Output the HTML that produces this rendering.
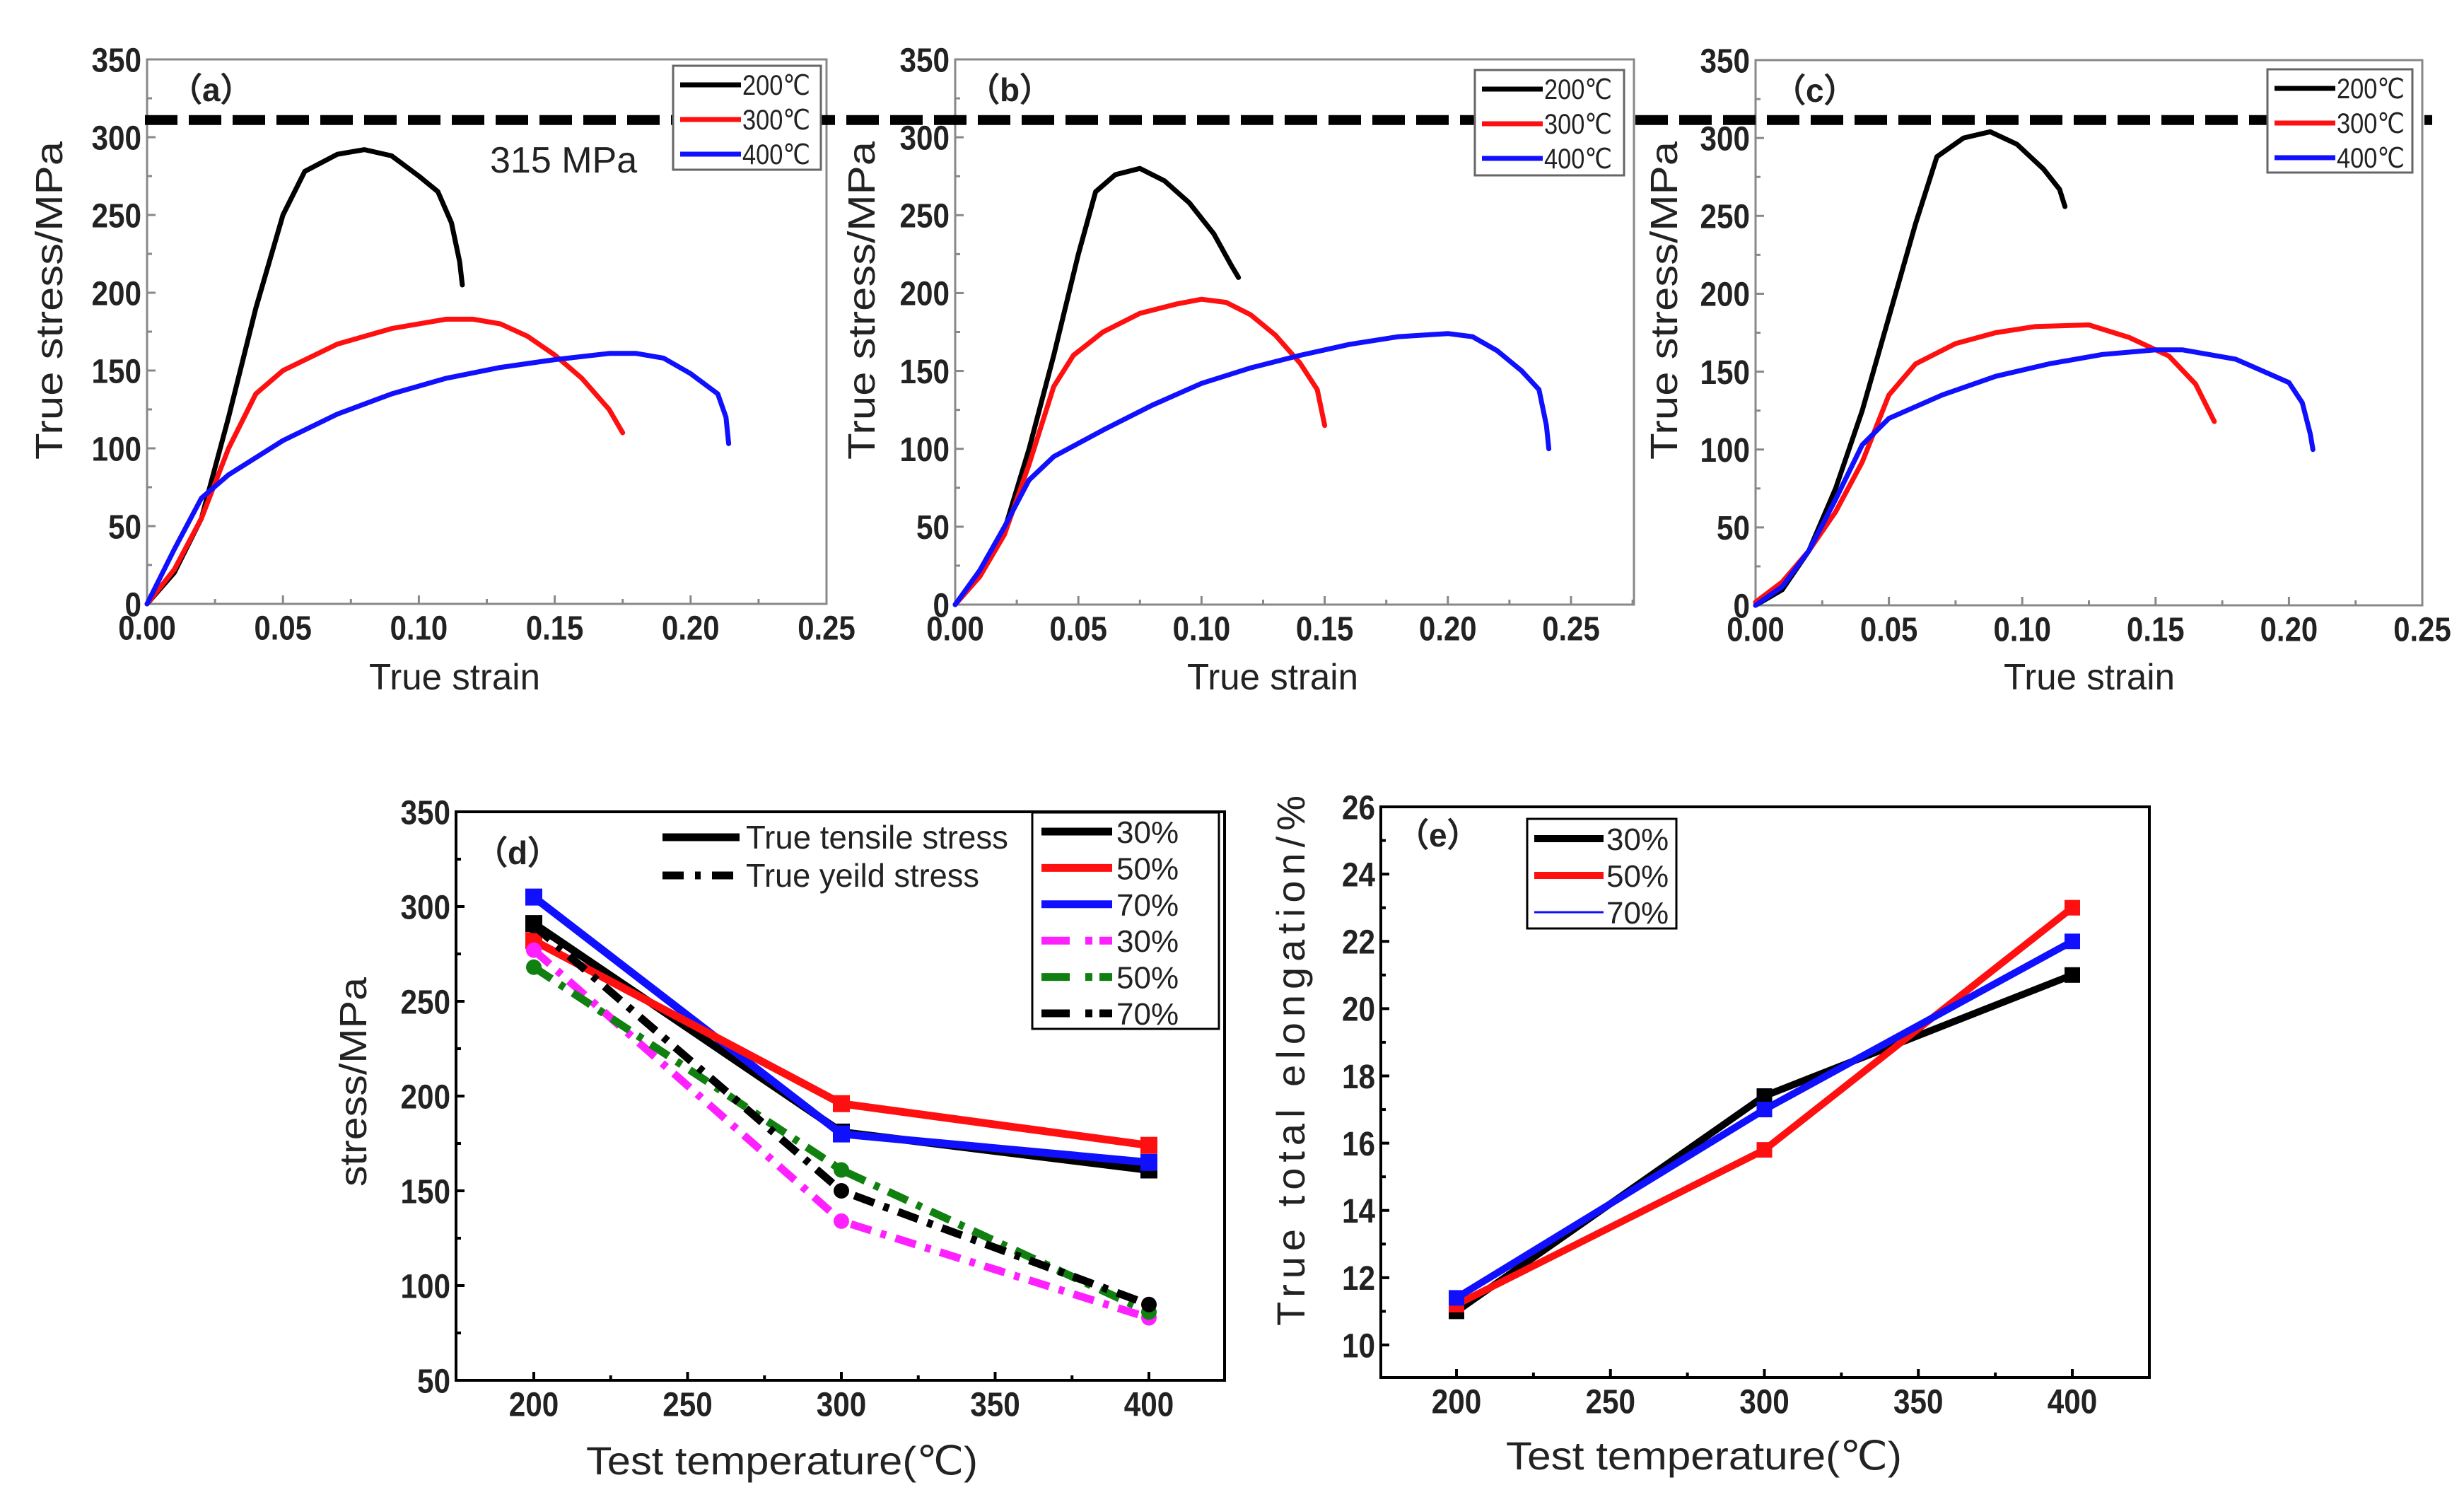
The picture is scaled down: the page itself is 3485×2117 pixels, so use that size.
<!DOCTYPE html>
<html><head><meta charset="utf-8">
<style>
html,body{margin:0;padding:0;background:#fff;overflow:hidden;}
svg{display:block;}
text{font-family:"Liberation Sans",sans-serif;}
</style></head>
<body>
<svg id="fig" width="3485" height="2117" viewBox="0 0 3485 2117" xmlns="http://www.w3.org/2000/svg"></svg>
<script>
// ---- data: panels a-c (true strain, true stress) ----
const strainA200=[0,0.01,0.02,0.03,0.04,0.05,0.058,0.07,0.08,0.09,0.1,0.107,0.112,0.115,0.116];
const stressA200=[0,20,55,120,190,250,278,289,292,288,275,265,245,220,205];
const strainA300=[0,0.01,0.02,0.03,0.04,0.05,0.07,0.09,0.11,0.12,0.13,0.14,0.15,0.16,0.17,0.175];
const stressA300=[0,22,55,100,135,150,167,177,183,183,180,172,160,145,125,110];
const strainA400=[0,0.01,0.02,0.03,0.05,0.07,0.09,0.11,0.13,0.15,0.17,0.18,0.19,0.2,0.21,0.213,0.214];
const stressA400=[0,35,68,83,105,122,135,145,152,157,161,161,158,148,135,120,103];
const strainB200=[0,0.01,0.02,0.03,0.04,0.05,0.057,0.065,0.075,0.085,0.095,0.105,0.112,0.115];
const stressB200=[0,20,48,100,160,225,265,276,280,272,258,238,218,210];
const strainB300=[0,0.01,0.02,0.03,0.04,0.048,0.06,0.075,0.09,0.1,0.11,0.12,0.13,0.14,0.147,0.15];
const stressB300=[0,18,45,90,140,160,175,187,193,196,194,186,173,155,138,115];
const strainB400=[0,0.01,0.02,0.03,0.04,0.06,0.08,0.1,0.12,0.14,0.16,0.18,0.2,0.21,0.22,0.23,0.237,0.24,0.241];
const stressB400=[0,22,50,80,95,112,128,142,152,160,167,172,174,172,163,150,138,115,100];
const strainC200=[0,0.01,0.02,0.03,0.04,0.05,0.06,0.068,0.078,0.088,0.098,0.108,0.114,0.116];
const stressC200=[0,10,35,75,125,185,245,288,300,304,296,280,267,256];
const strainC300=[0,0.01,0.02,0.03,0.04,0.05,0.06,0.075,0.09,0.105,0.125,0.14,0.155,0.165,0.172];
const stressC300=[2,15,35,60,92,135,155,168,175,179,180,172,160,142,118];
const strainC400=[0,0.01,0.02,0.03,0.04,0.05,0.07,0.09,0.11,0.13,0.15,0.16,0.18,0.2,0.205,0.208,0.209];
const stressC400=[0,12,35,68,103,120,135,147,155,161,164,164,158,143,130,110,100];
const strainTicks=["0.00","0.05","0.10","0.15","0.20","0.25"];
const stressTicks=["0","50","100","150","200","250","300","350"];
const limitStress=311;
// ---- panel d ----
const temps=[200,300,400];
const tensile30=[291,181,161];
const tensile50=[282,196,174];
const tensile70=[305,180,165];
const yield30=[277,134,83];
const yield50=[268,161,86];
const yield70=[290,150,90];
const dTicksY=["50","100","150","200","250","300","350"];
const tempTicks=["200","250","300","350","400"];
// ---- panel e ----
const elong30=[11.0,17.4,21.0];
const elong50=[11.2,15.8,23.0];
const elong70=[11.4,17.0,22.0];
const eTicksY=["10","12","14","16","18","20","22","24","26"];

const NS="http://www.w3.org/2000/svg";
const svg=document.getElementById('fig');
function mk(tag,attrs,parent,txt){
  const e=document.createElementNS(NS,tag);
  for(const k in attrs) e.setAttribute(k,attrs[k]);
  if(txt!==undefined) e.textContent=txt;
  (parent||svg).appendChild(e);return e;
}
function lin(d0,d1,p0,p1){return v=>p0+(v-d0)*(p1-p0)/(d1-d0);}
function tlen(s){let w=0;for(const ch of s) w+=(ch==='.')?11:23.5;return w;}

function axesFrame(g,box,xs,ys,xTickVals,xLabels,yTickVals,yLabels,xMinor,yMinor,col,sw,fs){
  const r=mk('rect',{x:box.l,y:box.t,width:box.r-box.l,height:box.b-box.t,fill:'none',stroke:col,'stroke-width':sw},g);
  
  xTickVals.forEach((v,i)=>{
    const x=xs(v);
    const t=mk('line',{x1:x,x2:x,y1:box.b,y2:box.b-12,stroke:col,'stroke-width':sw},g);
    
    const l=mk('text',{x:x,y:box.b+fs*1.05,'font-size':fs,'font-weight':'bold','text-anchor':'middle',fill:'#222',textLength:tlen(xLabels[i]),lengthAdjust:'spacingAndGlyphs'},g,xLabels[i]);
    
  });
  xMinor.forEach(v=>{const x=xs(v);mk('line',{x1:x,x2:x,y1:box.b,y2:box.b-7,stroke:col,'stroke-width':sw},g);});
  yTickVals.forEach((v,i)=>{
    const y=ys(v);
    const t=mk('line',{x1:box.l,x2:box.l+12,y1:y,y2:y,stroke:col,'stroke-width':sw},g);
    
    const l=mk('text',{x:box.l-8,y:y+fs*0.36,'font-size':fs,'font-weight':'bold','text-anchor':'end',fill:'#222',textLength:tlen(yLabels[i]),lengthAdjust:'spacingAndGlyphs'},g,yLabels[i]);
    
  });
  yMinor.forEach(v=>{const y=ys(v);mk('line',{x1:box.l,x2:box.l+7,y1:y,y2:y,stroke:col,'stroke-width':sw},g);});
}
function pathFrom(xsArr,ysArr,xs,ys){return xsArr.map((v,i)=>(i?'L':'M')+xs(v).toFixed(1)+' '+ys(ysArr[i]).toFixed(1)).join(' ');}

// ---- strain panels ----
const panels=[
 {id:'a',box:{l:208,r:1169,t:84,b:854},x25:1169,leg:{x:952,y:93,w:209,h:147},data:[[strainA200,stressA200],[strainA300,stressA300],[strainA400,stressA400]],labX:240,titleX:643,ytX:88},
 {id:'b',box:{l:1351,r:2311,t:84,b:855},x25:2222,leg:{x:2086,y:99,w:211,h:149},data:[[strainB200,stressB200],[strainB300,stressB300],[strainB400,stressB400]],labX:1368,titleX:1800,ytX:1237},
 {id:'c',box:{l:2483,r:3426,t:85,b:856},x25:3426,leg:{x:3207,y:98,w:205,h:146},data:[[strainC200,stressC200],[strainC300,stressC300],[strainC400,stressC400]],labX:2508,titleX:2955,ytX:2372}
];
const cols=['#000','#ff1010','#1010ff'];
const legLabels=['200℃','300℃','400℃'];
panels.forEach(p=>{
  const g=mk('g',{});
  
  const xs=lin(0,0.25,p.box.l,p.x25), ys=lin(0,350,p.box.b,p.box.t);
  const xv=strainTicks.map(Number).filter(v=>xs(v)<=p.box.r+1);
  const minorX=[0.025,0.075,0.125,0.175,0.225,0.275].filter(v=>xs(v)<p.box.r);
  axesFrame(g,p.box,xs,ys,xv,strainTicks,stressTicks.map(Number),stressTicks,minorX,[25,75,125,175,225,275,325],'#888',3,48);
  p.data.forEach((d,i)=>{
    const c=mk('path',{d:pathFrom(d[0],d[1],xs,ys),fill:'none',stroke:cols[i],'stroke-width':7,'stroke-linejoin':'round','stroke-linecap':'round'},g);
    
  });
  const lab=mk('text',{x:p.labX,y:p.box.t+59,'font-size':46,'font-weight':'bold',fill:'#222'},g,'（'+p.id+'）');
  
  const xt=mk('text',{x:p.titleX,y:975,'font-size':52,'text-anchor':'middle',fill:'#222',textLength:242,lengthAdjust:'spacingAndGlyphs'},g,'True strain');
  
  const yc=425;
  const yt=mk('text',{x:p.ytX,y:yc,'font-size':54,'text-anchor':'middle',fill:'#222',textLength:450,lengthAdjust:'spacingAndGlyphs',transform:'rotate(-90 '+p.ytX+' '+yc+')'},g,'True stress/MPa');
  
  p.g=g;p.ys=ys;
});
// dashed 315 MPa line
const dl=mk('line',{x1:205,x2:3440,y1:panels[0].ys(limitStress),y2:panels[0].ys(limitStress),stroke:'#000','stroke-width':14,'stroke-dasharray':'46 16'});

const nt=mk('text',{x:693,y:244,'font-size':52,fill:'#222'},undefined,'315 MPa');

panels.forEach(p=>{
  const lg=mk('g',{});
  
  mk('rect',{x:p.leg.x,y:p.leg.y,width:p.leg.w,height:p.leg.h,fill:'#fff',stroke:'#666','stroke-width':3},lg);
  legLabels.forEach((t,i)=>{
    const y=p.leg.y+27+i*49;
    const e=mk('g',{},lg);
    
    mk('line',{x1:p.leg.x+10,x2:p.leg.x+96,y1:y,y2:y,stroke:cols[i],'stroke-width':7},e);
    mk('text',{x:p.leg.x+98,y:y+14,'font-size':40,fill:'#222',textLength:96,lengthAdjust:'spacingAndGlyphs'},e,t);
  });
});

// ---- panel d ----
(function(){
  const g=mk('g',{});
  
  const box={l:645,r:1732,t:1148,b:1952};
  const xs=lin(200,400,755,1625), ys=lin(50,350,box.b,box.t);
  axesFrame(g,box,xs,ys,tempTicks.map(Number),tempTicks,dTicksY.map(Number),dTicksY,[225,275,325,375],[75,125,175,225,275,325],'#000',4,48);
  const series=[[tensile30,'#000',null,'tensile-30'],[tensile70,'#1010ff',null,'tensile-70'],[tensile50,'#ff1010',null,'tensile-50'],
    [yield30,'#ff20ff','30 14 8 14','yield-30'],[yield50,'#108010','30 14 8 14','yield-50'],[yield70,'#000','30 14 8 14','yield-70']];
  series.forEach(s=>{
    const a={d:pathFrom(temps,s[0],xs,ys),fill:'none',stroke:s[1],'stroke-width':11};
    if(s[2]) a['stroke-dasharray']=s[2];
    const l=mk('path',a,g);
    
    s[0].forEach((v,i)=>{
      const m=s[2]?mk('circle',{cx:xs(temps[i]),cy:ys(v),r:11,fill:s[1]},g):mk('rect',{x:xs(temps[i])-12,y:ys(v)-12,width:24,height:24,fill:s[1]},g);
      
    });
  });
  const lab=mk('text',{x:672,y:1222,'font-size':46,'font-weight':'bold',fill:'#222'},g,'（d）');
  
  [['True tensile stress',null,1184,371],['True yeild stress','30 16 8 16',1238,330]].forEach(r=>{
    const e=mk('g',{},g);
    
    const a={x1:937,x2:1046,y1:r[2],y2:r[2],stroke:'#000','stroke-width':11};
    if(r[1]) a['stroke-dasharray']=r[1];
    mk('line',a,e);
    mk('text',{x:1055,y:r[2]+16,'font-size':46,fill:'#222',textLength:r[3],lengthAdjust:'spacingAndGlyphs'},e,r[0]);
  });
  const lg=mk('g',{},g);
  
  mk('rect',{x:1460,y:1149,width:264,height:306,fill:'#fff',stroke:'#000','stroke-width':3},lg);
  const rows=[['#000',null,'30%'],['#ff1010',null,'50%'],['#1010ff',null,'70%'],['#ff20ff','40 22 10 10','30%'],['#108010','40 22 10 10','50%'],['#000','40 22 10 10','70%']];
  rows.forEach((r,i)=>{
    const y=1176+i*51.4;
    const e=mk('g',{},lg);
    
    const a={x1:1473,x2:1573,y1:y,y2:y,stroke:r[0],'stroke-width':11};
    if(r[1]) a['stroke-dasharray']=r[1];
    mk('line',a,e);
    mk('text',{x:1579,y:y+16,'font-size':44,fill:'#222'},e,r[2]);
  });
  const xt=mk('text',{x:1106,y:2085,'font-size':56,'text-anchor':'middle',fill:'#222',textLength:554,lengthAdjust:'spacingAndGlyphs'},g,'Test temperature(℃)');
  
  const yt=mk('text',{x:518,y:1530,'font-size':54,'text-anchor':'middle',fill:'#222',textLength:296,lengthAdjust:'spacingAndGlyphs',transform:'rotate(-90 518 1530)'},g,'stress/MPa');
  
})();

// ---- panel e ----
(function(){
  const g=mk('g',{});
  
  const box={l:1953,r:3040,t:1141,b:1948};
  const xs=lin(200,400,2060,2931), ys=lin(10,26,1902,1141);
  axesFrame(g,box,xs,ys,tempTicks.map(Number),tempTicks,eTicksY.map(Number),eTicksY,[225,275,325,375],[11,13,15,17,19,21,23,25],'#000',4,48);
  const series=[[elong30,'#000','elong-30'],[elong50,'#ff1010','elong-50'],[elong70,'#1010ff','elong-70']];
  series.forEach(s=>{
    const l=mk('path',{d:pathFrom(temps,s[0],xs,ys),fill:'none',stroke:s[1],'stroke-width':10},g);
    
    s[0].forEach((v,i)=>{
      const m=mk('rect',{x:xs(temps[i])-11,y:ys(v)-11,width:22,height:22,fill:s[1]},g);
      
    });
  });
  const lab=mk('text',{x:1975,y:1197,'font-size':46,'font-weight':'bold',fill:'#222'},g,'（e）');
  
  const lg=mk('g',{},g);
  
  mk('rect',{x:2160,y:1158,width:211,height:155,fill:'#fff',stroke:'#000','stroke-width':3},lg);
  [['#000',10,'30%'],['#ff1010',10,'50%'],['#1010ff',3,'70%']].forEach((r,i)=>{
    const y=1186+i*52;
    const e=mk('g',{},lg);
    
    mk('line',{x1:2170,x2:2268,y1:y,y2:y,stroke:r[0],'stroke-width':r[1]},e);
    mk('text',{x:2272,y:y+16,'font-size':44,fill:'#222'},e,r[2]);
  });
  const xt=mk('text',{x:2410,y:2078,'font-size':56,'text-anchor':'middle',fill:'#222',textLength:560,lengthAdjust:'spacingAndGlyphs'},g,'Test temperature(℃)');
  
  const yt=mk('text',{x:1845,y:1500,'font-size':56,'text-anchor':'middle',fill:'#222',textLength:750,lengthAdjust:'spacing',transform:'rotate(-90 1845 1500)'},g,'True total elongation/%');
  
})();
</script>
</body></html>
